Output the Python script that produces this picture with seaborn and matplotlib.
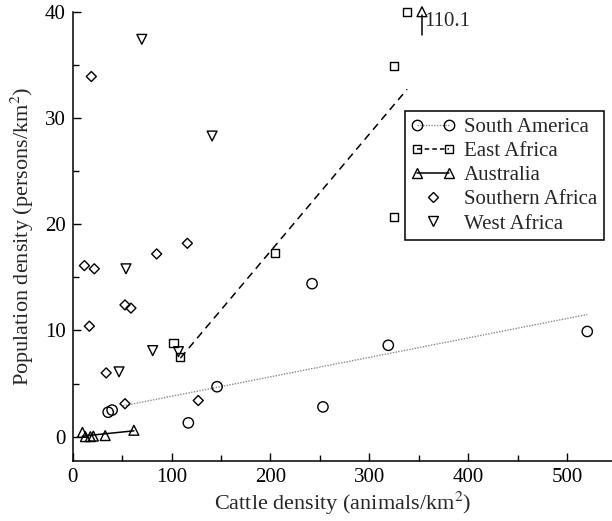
import numpy as np
import pandas as pd
import matplotlib
matplotlib.use("Agg")
import matplotlib.pyplot as plt
import seaborn as sns
from matplotlib.lines import Line2D
from matplotlib.legend_handler import HandlerLine2D
from matplotlib.ticker import MultipleLocator

# ---- data ----
south_america_x = [36, 40, 117, 146, 242, 253, 319, 520]
south_america_y = [2.3, 2.5, 1.3, 4.7, 14.4, 2.8, 8.6, 9.9]

east_africa_x = [102, 109, 205, 325, 325, 338]
east_africa_y = [8.8, 7.5, 17.3, 34.9, 20.7, 40.0]

australia_x = [10, 13, 18, 21, 33, 62, 353]
australia_y = [0.4, 0.0, 0.0, 0.05, 0.1, 0.6, 110.1]

southern_africa_x = [19, 12, 22, 85, 116, 53, 59, 17, 34, 53, 127]
southern_africa_y = [33.9, 16.1, 15.8, 17.2, 18.2, 12.4, 12.1, 10.4, 6.0, 3.1, 3.4]

west_africa_x = [70, 141, 54, 81, 47, 107]
west_africa_y = [37.4, 28.3, 15.8, 8.1, 6.1, 8.0]

# regression lines (endpoints)
sa_fit_x = [51, 520]
sa_fit_y = [2.9, 11.5]
ea_fit_x = [109, 338]
ea_fit_y = [7.4, 32.7]
au_fit_x = [10, 62]
au_fit_y = [0.05, 0.55]

x_ticks = [0, 100, 200, 300, 400, 500]
y_ticks = [0, 10, 20, 30, 40]
y_top = 40
outlier_label = "110.1"

# ---- style ----
sns.set_theme(style="ticks")
plt.rcParams["font.family"] = ["Liberation Serif", "DejaVu Serif"]
plt.rcParams["mathtext.fontset"] = "stix"

fig = plt.figure(figsize=(6.12, 5.21), dpi=100)
ax = fig.add_axes([0.1185, 0.115, 0.8815, 0.8625])

mk_kw = dict(facecolor="none", edgecolor="black", linewidth=1.0, clip_on=False, zorder=3)

sns.lineplot(x=sa_fit_x, y=sa_fit_y, ax=ax, color="#8a8a8a", linestyle=(0, (1, 1)), linewidth=1.0)
sns.lineplot(x=ea_fit_x, y=ea_fit_y, ax=ax, color="black", linestyle=(0, (5, 3.5)), linewidth=1.1)
sns.lineplot(x=au_fit_x, y=au_fit_y, ax=ax, color="black", linestyle="-", linewidth=1.1)

sns.scatterplot(x=south_america_x, y=south_america_y, ax=ax, marker="o", s=55, **mk_kw)
sns.scatterplot(x=east_africa_x, y=east_africa_y, ax=ax, marker="s", s=34, **mk_kw)
au_y_shown = np.minimum(australia_y, y_top)
sns.scatterplot(x=australia_x, y=au_y_shown, ax=ax, marker="^", s=50, **mk_kw)
sns.scatterplot(x=southern_africa_x, y=southern_africa_y, ax=ax, marker="D", s=26, **mk_kw)
sns.scatterplot(x=west_africa_x, y=west_africa_y, ax=ax, marker="v", s=50, **mk_kw)

# outlier arrow and label
idx = int(np.argmax(australia_y))
ox = australia_x[idx]
ax.plot([ox, ox], [y_top - 2.2, y_top - 0.3], color="black", linewidth=1.1, clip_on=False)
ax.text(ox + 2.5, y_top - 0.9, outlier_label, ha="left", va="center", fontsize=15)

ax.set_xlim(0, 545)
ax.set_ylim(-2.3, y_top)
ax.set_xticks(x_ticks)
ax.set_yticks(y_ticks)
ax.xaxis.set_minor_locator(MultipleLocator(50))
ax.yaxis.set_minor_locator(MultipleLocator(5))
ax.tick_params(which="both", direction="in", labelsize=15, colors="black", width=1.0)
ax.tick_params(which="major", length=6, pad=5)
ax.tick_params(which="minor", length=4)
for sp in ["top", "right"]:
    ax.spines[sp].set_visible(False)
for sp in ["left", "bottom"]:
    ax.spines[sp].set_linewidth(1.1)
    ax.spines[sp].set_color("black")
ax.spines["left"].set_bounds(-2.3, y_top)

ax.set_xlabel("Cattle density (animals/km$^2$)", fontsize=16, labelpad=2)
ax.set_ylabel("Population density (persons/km$^2$)", fontsize=16, labelpad=6)

# legend
h_sa = Line2D([], [], color="#8a8a8a", linestyle=(0, (1, 1)), linewidth=1.0, marker="o",
              markersize=7.5, markerfacecolor="none", markeredgecolor="black")
h_ea = Line2D([], [], color="black", linestyle=(0, (3, 2)), linewidth=1.1, marker="s",
              markersize=5.8, markerfacecolor="none", markeredgecolor="black")
h_au = Line2D([], [], color="black", linestyle="-", linewidth=1.1, marker="^",
              markersize=7, markerfacecolor="none", markeredgecolor="black")
h_sf = Line2D([], [], linestyle="none", marker="D", markersize=5,
              markerfacecolor="none", markeredgecolor="black")
h_wa = Line2D([], [], linestyle="none", marker="v", markersize=7,
              markerfacecolor="none", markeredgecolor="black")
labels = ["South America", "East Africa", "Australia", "Southern Africa", "West Africa"]
leg = ax.legend([h_sa, h_ea, h_au, h_sf, h_wa], labels,
                loc="upper left", bbox_to_anchor=(0.616, 0.779), borderaxespad=0,
                numpoints=2, handlelength=2.1, handletextpad=0.45, labelspacing=0.22,
                borderpad=0.3, fontsize=15, frameon=True, fancybox=False,
                handler_map={h_sf: HandlerLine2D(numpoints=1), h_wa: HandlerLine2D(numpoints=1)})
leg.get_frame().set_edgecolor("black")
leg.get_frame().set_linewidth(1.1)
leg.get_frame().set_alpha(1)

fig.savefig("out.png", dpi=100)
